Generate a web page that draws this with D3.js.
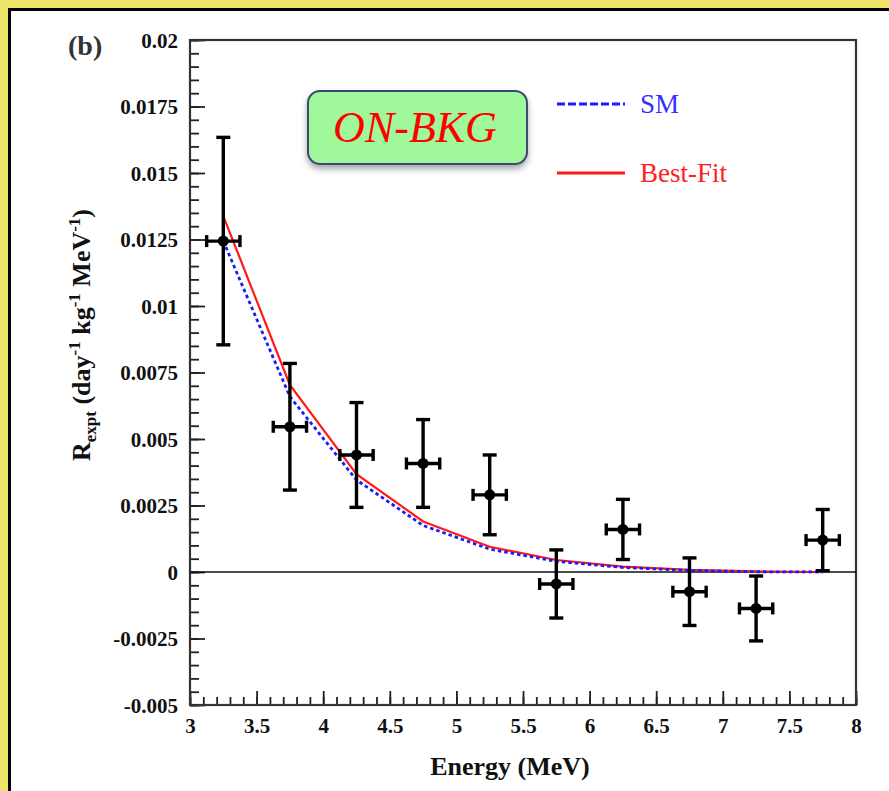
<!DOCTYPE html>
<html>
<head>
<meta charset="utf-8">
<script src="https://cdn.jsdelivr.net/npm/d3@7"></script>
<style>
  html, body { margin: 0; padding: 0; background: #ede46a; }
  svg { display: block; }
</style>
</head>
<body>
<script>
// ---- Data ----
const energies = [3.25, 3.75, 4.25, 4.75, 5.25, 5.75, 6.25, 6.75, 7.25, 7.75];
const rate     = [0.01244, 0.00546, 0.00440, 0.00408, 0.00290, -0.00045, 0.00160, -0.00074, -0.00137, 0.00120];
const rateErr  = [0.00390, 0.00238, 0.00197, 0.00165, 0.00150, 0.00128, 0.00113, 0.00127, 0.00122, 0.00115];
const energyErr = 0.125;
const smCurve      = [0.01244, 0.00659, 0.00346, 0.00175, 0.00086, 0.00040, 0.00017, 0.00006, 0.00001, 0.0];
const bestFitCurve = [0.01338, 0.00703, 0.00368, 0.00190, 0.00095, 0.00045, 0.00020, 0.00008, 0.00002, 0.0];
const yTickValues = [0.02, 0.0175, 0.015, 0.0125, 0.01, 0.0075, 0.005, 0.0025, 0, -0.0025, -0.005];
const yTickLabels = ["0.02", "0.0175", "0.015", "0.0125", "0.01", "0.0075", "0.005", "0.0025", "0", "-0.0025", "-0.005"];
const xTickValues = [3, 3.5, 4, 4.5, 5, 5.5, 6, 6.5, 7, 7.5, 8];
const xTickLabels = ["3", "3.5", "4", "4.5", "5", "5.5", "6", "6.5", "7", "7.5", "8"];
const legendLabels = ["SM", "Best-Fit"];

const W = 889, H = 791;
const svg = d3.select("body").append("svg").attr("width", W).attr("height", H);

// defs
const defs = svg.append("defs");
const f = defs.append("filter").attr("id", "shadow").attr("x", "-10%").attr("y", "-10%").attr("width", "130%").attr("height", "150%");
f.append("feDropShadow").attr("dx", 0).attr("dy", 4).attr("stdDeviation", 3).attr("flood-color", "#000").attr("flood-opacity", 0.35);

// background: yellow border, black frame, white panel
svg.append("rect").attr("x", 0).attr("y", 0).attr("width", W).attr("height", H).attr("fill", "#ede46a");
svg.append("rect").attr("x", 8).attr("y", 8).attr("width", W - 8).attr("height", H - 8).attr("fill", "#000");
svg.append("rect").attr("x", 11).attr("y", 11).attr("width", W - 11).attr("height", H - 11).attr("fill", "#fff");

const x = d3.scaleLinear().domain([3, 8]).range([190, 856]);
const y = d3.scaleLinear().domain([-0.005, 0.02]).range([705, 40]);

const serif = "'Liberation Serif', 'Times New Roman', serif";

// y axis (ticks pointing inward)
const yMinor = d3.range(-0.005, 0.02001, 0.0005);
const yAxis = d3.axisRight(y).tickValues(yMinor).tickSize(9).tickFormat("");
svg.append("g").attr("transform", `translate(${x(3)},0)`).call(yAxis)
  .call(g => g.select(".domain").remove())
  .call(g => g.selectAll("line").attr("stroke", "#222").attr("stroke-width", 1.8));
const yAxisMajor = d3.axisRight(y).tickValues(yTickValues).tickSize(15)
  .tickFormat((d, i) => yTickLabels[i]);
svg.append("g").attr("transform", `translate(${x(3)},0)`).call(yAxisMajor)
  .call(g => g.select(".domain").remove())
  .call(g => g.selectAll("line").attr("stroke", "#222").attr("stroke-width", 1.8))
  .call(g => g.selectAll("text").attr("x", -12).attr("dy", "0.35em").attr("text-anchor", "end")
      .attr("font-family", serif).attr("font-weight", "bold").attr("font-size", 21).attr("fill", "#111"));

// x axis (ticks pointing inward)
const xMinor = d3.range(3, 8.0001, 0.1);
const xAxis = d3.axisTop(x).tickValues(xMinor).tickSize(8).tickFormat("");
svg.append("g").attr("transform", `translate(0,${y(-0.005)})`).call(xAxis)
  .call(g => g.select(".domain").remove())
  .call(g => g.selectAll("line").attr("stroke", "#222").attr("stroke-width", 1.8));
const xAxisMajor = d3.axisTop(x).tickValues(xTickValues).tickSize(14)
  .tickFormat((d, i) => xTickLabels[i]);
svg.append("g").attr("transform", `translate(0,${y(-0.005)})`).call(xAxisMajor)
  .call(g => g.select(".domain").remove())
  .call(g => g.selectAll("line").attr("stroke", "#222").attr("stroke-width", 1.8))
  .call(g => g.selectAll("text").attr("y", 28).attr("dy", 0)
      .attr("font-family", serif).attr("font-weight", "bold").attr("font-size", 21).attr("fill", "#111"));

// frame
svg.append("rect").attr("x", x(3)).attr("y", y(0.02)).attr("width", x(8) - x(3)).attr("height", y(-0.005) - y(0.02))
  .attr("fill", "none").attr("stroke", "#333").attr("stroke-width", 2.2);

// zero line
svg.append("line").attr("x1", x(3)).attr("x2", x(8)).attr("y1", y(0)).attr("y2", y(0))
  .attr("stroke", "#111").attr("stroke-width", 1.3);

// curves
const smData = energies.map((e, i) => [e, smCurve[i]]);
const bfData = energies.map((e, i) => [e, bestFitCurve[i]]);
const line = d3.line().x(d => x(d[0])).y(d => y(d[1]));
svg.append("path").attr("d", line(bfData)).attr("fill", "none").attr("stroke", "#ff1a1a").attr("stroke-width", 2.2);
svg.append("path").attr("d", line(smData)).attr("fill", "none").attr("stroke", "#1a1aff").attr("stroke-width", 2.8)
  .attr("stroke-dasharray", "3.5,3");

// data points with error bars
const pts = svg.append("g");
energies.forEach((e, i) => {
  const cx = x(e), cy = y(rate[i]);
  const yt = y(rate[i] + rateErr[i]), yb = y(rate[i] - rateErr[i]);
  const xl = x(e - energyErr), xr = x(e + energyErr);
  const g = pts.append("g").attr("stroke", "#000").attr("stroke-width", 3.4);
  g.append("line").attr("x1", cx).attr("x2", cx).attr("y1", yt).attr("y2", yb);
  g.append("line").attr("x1", cx - 7).attr("x2", cx + 7).attr("y1", yt).attr("y2", yt);
  g.append("line").attr("x1", cx - 7).attr("x2", cx + 7).attr("y1", yb).attr("y2", yb);
  g.append("line").attr("x1", xl).attr("x2", xr).attr("y1", cy).attr("y2", cy);
  g.append("line").attr("x1", xl).attr("x2", xl).attr("y1", cy - 6).attr("y2", cy + 6);
  g.append("line").attr("x1", xr).attr("x2", xr).attr("y1", cy - 6).attr("y2", cy + 6);
  pts.append("circle").attr("cx", cx).attr("cy", cy).attr("r", 5.5).attr("fill", "#000");
});

// ON-BKG box
svg.append("rect").attr("x", 308).attr("y", 91).attr("width", 219).attr("height", 73).attr("rx", 12).attr("ry", 12)
  .attr("fill", "#9ff99a").attr("stroke", "#3a4870").attr("stroke-width", 2).attr("filter", "url(#shadow)");
svg.append("text").attr("x", 415).attr("y", 142).attr("text-anchor", "middle")
  .attr("font-family", serif).attr("font-style", "italic").attr("font-size", 44).attr("fill", "#ff0000")
  .text("ON-BKG");

// legend
const legend = svg.append("g");
const legendY = [104, 173];
const legendColors = ["#1a1aff", "#ff1a1a"];
legendLabels.forEach((lab, i) => {
  const ln = legend.append("line").attr("x1", 557).attr("x2", 625).attr("y1", legendY[i]).attr("y2", legendY[i])
    .attr("stroke", legendColors[i]).attr("stroke-width", i === 0 ? 3 : 2.8);
  if (i === 0) ln.attr("stroke-dasharray", "8,3");
  legend.append("text").attr("x", 640).attr("y", legendY[i] + 9)
    .attr("font-family", serif).attr("font-size", 27).attr("fill", i === 0 ? "#3030ff" : "#ff2020").text(lab);
});

// (b) label
svg.append("text").attr("x", 68).attr("y", 55).attr("font-family", serif).attr("font-weight", "bold")
  .attr("font-size", 28).attr("fill", "#333").text("(b)");

// axis titles
svg.append("text").attr("x", 510).attr("y", 775).attr("text-anchor", "middle")
  .attr("font-family", serif).attr("font-weight", "bold").attr("font-size", 26).attr("fill", "#111")
  .text("Energy (MeV)");

const yt = svg.append("text").attr("transform", "translate(90,335) rotate(-90)").attr("text-anchor", "middle")
  .attr("font-family", serif).attr("font-weight", "bold").attr("font-size", 26).attr("fill", "#111");
yt.append("tspan").text("R");
yt.append("tspan").attr("font-size", 17).attr("dy", 6).text("expt");
yt.append("tspan").attr("dy", -6).text(" (day");
yt.append("tspan").attr("font-size", 17).attr("dy", -10).text("-1");
yt.append("tspan").attr("dy", 10).text(" kg");
yt.append("tspan").attr("font-size", 17).attr("dy", -10).text("-1");
yt.append("tspan").attr("dy", 10).text(" MeV");
yt.append("tspan").attr("font-size", 17).attr("dy", -10).text("-1");
yt.append("tspan").attr("dy", 10).text(")");
</script>
</body>
</html>
